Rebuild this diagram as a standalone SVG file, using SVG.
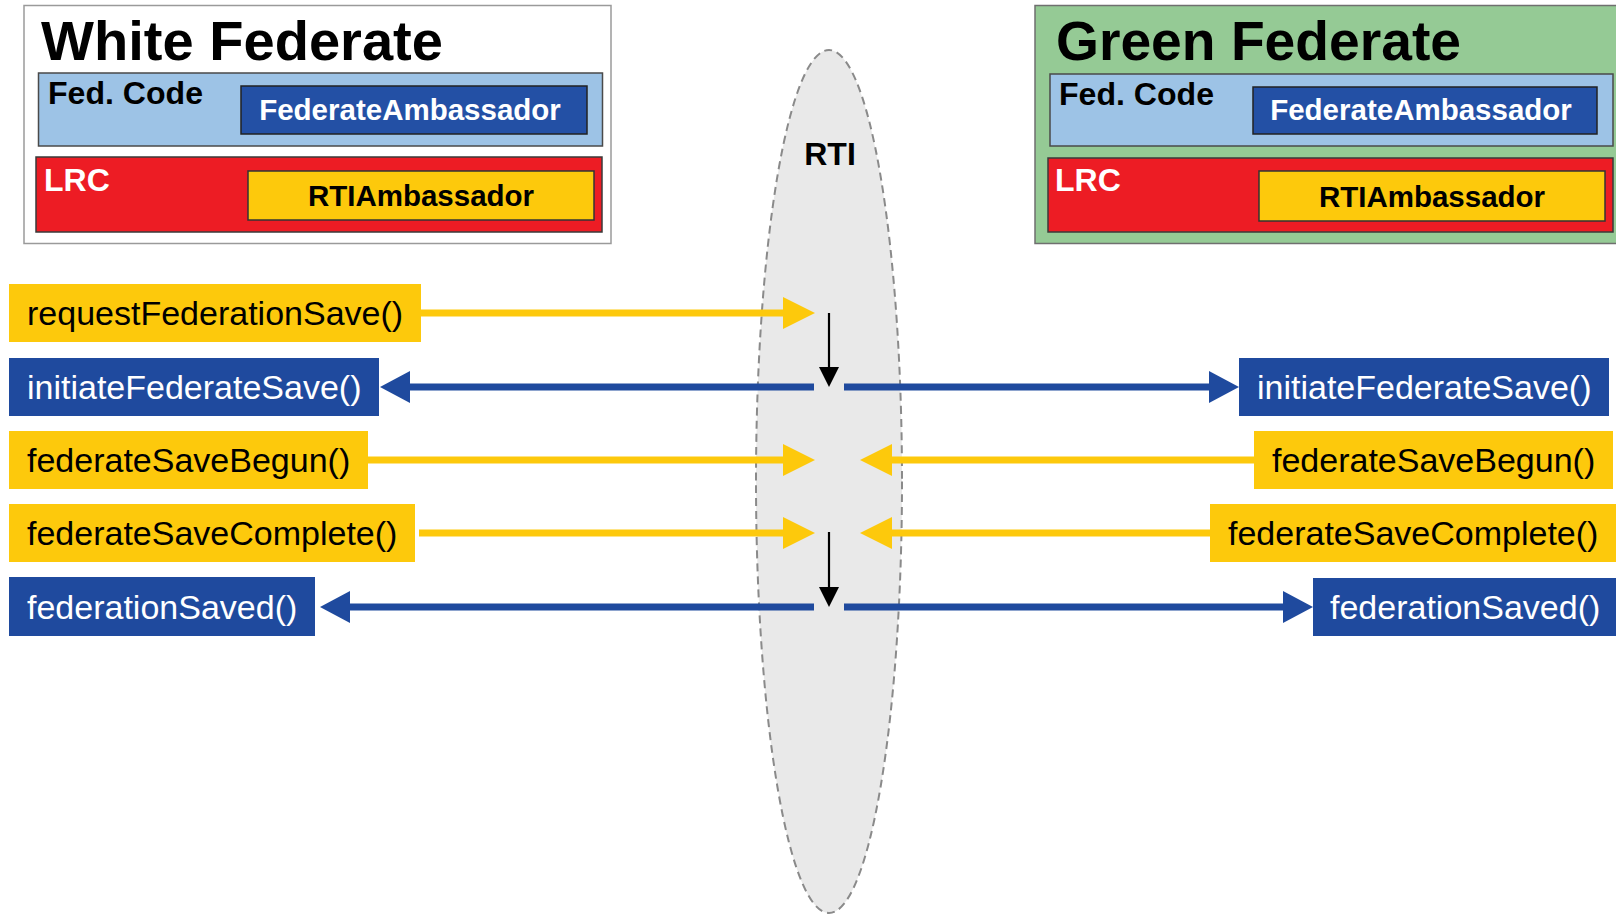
<svg xmlns="http://www.w3.org/2000/svg" width="1616" height="914" viewBox="0 0 1616 914">
  <style>
    text { font-family: "Liberation Sans", Arial, sans-serif; }
    .title { font-size: 55px; font-weight: bold; fill: #000; }
    .code { font-size: 32px; font-weight: bold; fill: #000; }
    .lrc { font-size: 32px; font-weight: bold; fill: #fff; }
    .fedamb { font-size: 29.5px; font-weight: bold; fill: #fff; }
    .rtiamb { font-size: 29.5px; font-weight: bold; fill: #000; }
    .call { font-size: 34px; }
    .call-y { fill: #000; }
    .call-b { fill: #fff; }
    .box-y { fill: #FDC90C; }
    .box-b { fill: #1F4A9E; }
    .codebox { fill: #9DC3E6; stroke: #4a4a4a; stroke-width: 1.5; }
    .lrcbox { fill: #ED1C24; stroke: #3a3a3a; stroke-width: 1.5; }
    .ambbox-b { fill: #2350A5; stroke: #222; stroke-width: 1.5; }
    .ambbox-y { fill: #FDC90C; stroke: #333; stroke-width: 1.5; }
    .line-y { stroke: #FDC90C; stroke-width: 7; fill: none; }
    .line-b { stroke: #1F4A9E; stroke-width: 7; fill: none; }
    .line-k { stroke: #000; stroke-width: 2.2; fill: none; }
  </style>
  <defs>
    <marker id="head-y" viewBox="0 0 32 32" refX="1" refY="16" markerWidth="32" markerHeight="32" markerUnits="userSpaceOnUse" orient="auto">
      <path d="M0,0 L32,16 L0,32 Z" fill="#FDC90C"/>
    </marker>
    <marker id="head-b" viewBox="0 0 30 32" refX="1" refY="16" markerWidth="30" markerHeight="32" markerUnits="userSpaceOnUse" orient="auto">
      <path d="M0,0 L30,16 L0,32 Z" fill="#1F4A9E"/>
    </marker>
    <marker id="head-k" viewBox="0 0 20 20" refX="1" refY="10" markerWidth="20" markerHeight="20" markerUnits="userSpaceOnUse" orient="auto">
      <path d="M0,0 L20,10 L0,20 Z" fill="#000"/>
    </marker>
  </defs>

  <rect width="1616" height="914" fill="#fff"/>

  <!-- RTI bus -->
  <g id="rti">
    <ellipse cx="829" cy="481.5" rx="73" ry="431.5" fill="#E9E9E9" stroke="#8A8A8A" stroke-width="2" stroke-dasharray="8 5"/>
    <text x="830" y="165" font-size="32" font-weight="bold" text-anchor="middle" fill="#000">RTI</text>
  </g>

  <!-- White federate -->
  <g id="white-federate">
    <rect x="24" y="5.5" width="587" height="238" fill="#fff" stroke="#9a9a9a" stroke-width="1.5"/>
    <text class="title" x="41" y="60" textLength="402" lengthAdjust="spacingAndGlyphs">White Federate</text>
    <rect class="codebox" x="38.5" y="73" width="564" height="73"/>
    <text class="code" x="48" y="104" textLength="155" lengthAdjust="spacingAndGlyphs">Fed. Code</text>
    <rect class="ambbox-b" x="241" y="86" width="346" height="48"/>
    <text class="fedamb" x="410" y="120" text-anchor="middle">FederateAmbassador</text>
    <rect class="lrcbox" x="36" y="157" width="566" height="75"/>
    <text class="lrc" x="44" y="191">LRC</text>
    <rect class="ambbox-y" x="248" y="171" width="346" height="49"/>
    <text class="rtiamb" x="421" y="206" text-anchor="middle">RTIAmbassador</text>
  </g>

  <!-- Green federate -->
  <g id="green-federate">
    <rect x="1035" y="5.5" width="590" height="238" fill="#95CA95" stroke="#6f6f6f" stroke-width="1.5"/>
    <text class="title" x="1056" y="60" textLength="405" lengthAdjust="spacingAndGlyphs">Green Federate</text>
    <rect class="codebox" x="1050" y="74" width="563" height="72"/>
    <text class="code" x="1059" y="105" textLength="155" lengthAdjust="spacingAndGlyphs">Fed. Code</text>
    <rect class="ambbox-b" x="1253" y="87" width="344" height="47"/>
    <text class="fedamb" x="1421" y="120" text-anchor="middle">FederateAmbassador</text>
    <rect class="lrcbox" x="1048" y="158" width="565" height="74"/>
    <text class="lrc" x="1055" y="191">LRC</text>
    <rect class="ambbox-y" x="1259" y="171" width="346" height="50"/>
    <text class="rtiamb" x="1432" y="207" text-anchor="middle">RTIAmbassador</text>
  </g>

  <!-- Service calls, white side -->
  <g id="w-requestFederationSave">
    <rect class="box-y" x="9" y="284" width="412" height="58"/>
    <text class="call call-y" x="27" y="325">requestFederationSave()</text>
  </g>
  <g id="w-initiateFederateSave">
    <rect class="box-b" x="9" y="358" width="370" height="58"/>
    <text class="call call-b" x="27" y="399">initiateFederateSave()</text>
  </g>
  <g id="w-federateSaveBegun">
    <rect class="box-y" x="9" y="431" width="359" height="58"/>
    <text class="call call-y" x="27" y="472">federateSaveBegun()</text>
  </g>
  <g id="w-federateSaveComplete">
    <rect class="box-y" x="9" y="504" width="406" height="58"/>
    <text class="call call-y" x="27" y="545">federateSaveComplete()</text>
  </g>
  <g id="w-federationSaved">
    <rect class="box-b" x="9" y="577" width="306" height="59"/>
    <text class="call call-b" x="27" y="619">federationSaved()</text>
  </g>

  <!-- Service calls, green side -->
  <g id="g-initiateFederateSave">
    <rect class="box-b" x="1239" y="358" width="370" height="58"/>
    <text class="call call-b" x="1257" y="399">initiateFederateSave()</text>
  </g>
  <g id="g-federateSaveBegun">
    <rect class="box-y" x="1254" y="431" width="359" height="58"/>
    <text class="call call-y" x="1272" y="472">federateSaveBegun()</text>
  </g>
  <g id="g-federateSaveComplete">
    <rect class="box-y" x="1210" y="504" width="406" height="58"/>
    <text class="call call-y" x="1228" y="545">federateSaveComplete()</text>
  </g>
  <g id="g-federationSaved">
    <rect class="box-b" x="1313" y="578" width="303" height="58"/>
    <text class="call call-b" x="1330" y="619">federationSaved()</text>
  </g>

  <!-- Connectors -->
  <g id="connectors">
    <path class="line-y" d="M421,313 H784" marker-end="url(#head-y)"/>
    <path class="line-k" d="M829,313 V368" marker-end="url(#head-k)"/>
    <path class="line-b" d="M814,387 H409" marker-end="url(#head-b)"/>
    <path class="line-b" d="M844,387 H1210" marker-end="url(#head-b)"/>
    <path class="line-y" d="M368,460 H784" marker-end="url(#head-y)"/>
    <path class="line-y" d="M1254,460 H891" marker-end="url(#head-y)"/>
    <path class="line-y" d="M419,533 H784" marker-end="url(#head-y)"/>
    <path class="line-y" d="M1210,533 H891" marker-end="url(#head-y)"/>
    <path class="line-k" d="M829,532 V588" marker-end="url(#head-k)"/>
    <path class="line-b" d="M814,607 H349" marker-end="url(#head-b)"/>
    <path class="line-b" d="M844,607 H1284" marker-end="url(#head-b)"/>
  </g>
</svg>
